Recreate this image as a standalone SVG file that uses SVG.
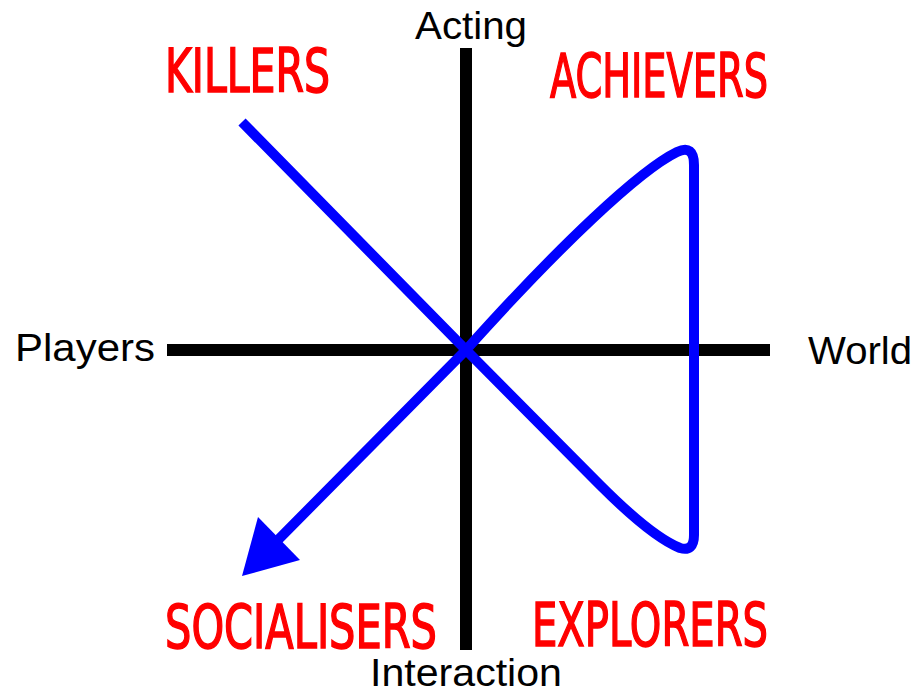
<svg xmlns="http://www.w3.org/2000/svg" width="919" height="693" viewBox="0 0 919 693">
<style>
.axis{stroke:#000;stroke-width:12;fill:none}
.curve{stroke:#0000ff;stroke-width:10;fill:none;stroke-linejoin:round;stroke-linecap:butt}
.lbl{font-family:"Liberation Sans",Arial,sans-serif;font-size:38px;fill:#000}
.type{font-family:"DejaVu Sans Condensed","DejaVu Sans",sans-serif;font-size:60px;fill:#ff0000;stroke:#ff0000;stroke-width:1.5}
</style>
<rect width="919" height="693" fill="#fff"/>
<g id="axes">
<line class="axis" x1="466" y1="48" x2="466" y2="650"/>
<line class="axis" x1="167" y1="350" x2="770" y2="350"/>
</g>
<g id="connectors">
<path class="curve" d="M242,122 L466,350 L600,485 C635,520 660,540 680,548 Q694,552 694,535 L694,165 Q694,144 677,152 C640,170 560,245 466,350 L268,550"/>
<polygon points="242,576 258,517 300,560" fill="#0000ff"/>
</g>
<g id="acting"><text class="lbl" x="415" y="39" textLength="112" lengthAdjust="spacingAndGlyphs">Acting</text></g>
<g id="interaction"><text class="lbl" x="370" y="686" textLength="192" lengthAdjust="spacingAndGlyphs">Interaction</text></g>
<g id="players"><text class="lbl" x="15" y="361" textLength="140" lengthAdjust="spacingAndGlyphs">Players</text></g>
<g id="world"><text class="lbl" x="808" y="364" textLength="104" lengthAdjust="spacingAndGlyphs">World</text></g>
<g id="killers"><text class="type" x="165" y="92" textLength="165" lengthAdjust="spacingAndGlyphs">KILLERS</text></g>
<g id="achievers"><text class="type" x="550" y="97" textLength="218" lengthAdjust="spacingAndGlyphs">ACHIEVERS</text></g>
<g id="socialisers"><text class="type" x="165" y="648" textLength="272" lengthAdjust="spacingAndGlyphs">SOCIALISERS</text></g>
<g id="explorers"><text class="type" x="532" y="646" textLength="236" lengthAdjust="spacingAndGlyphs">EXPLORERS</text></g>
</svg>
